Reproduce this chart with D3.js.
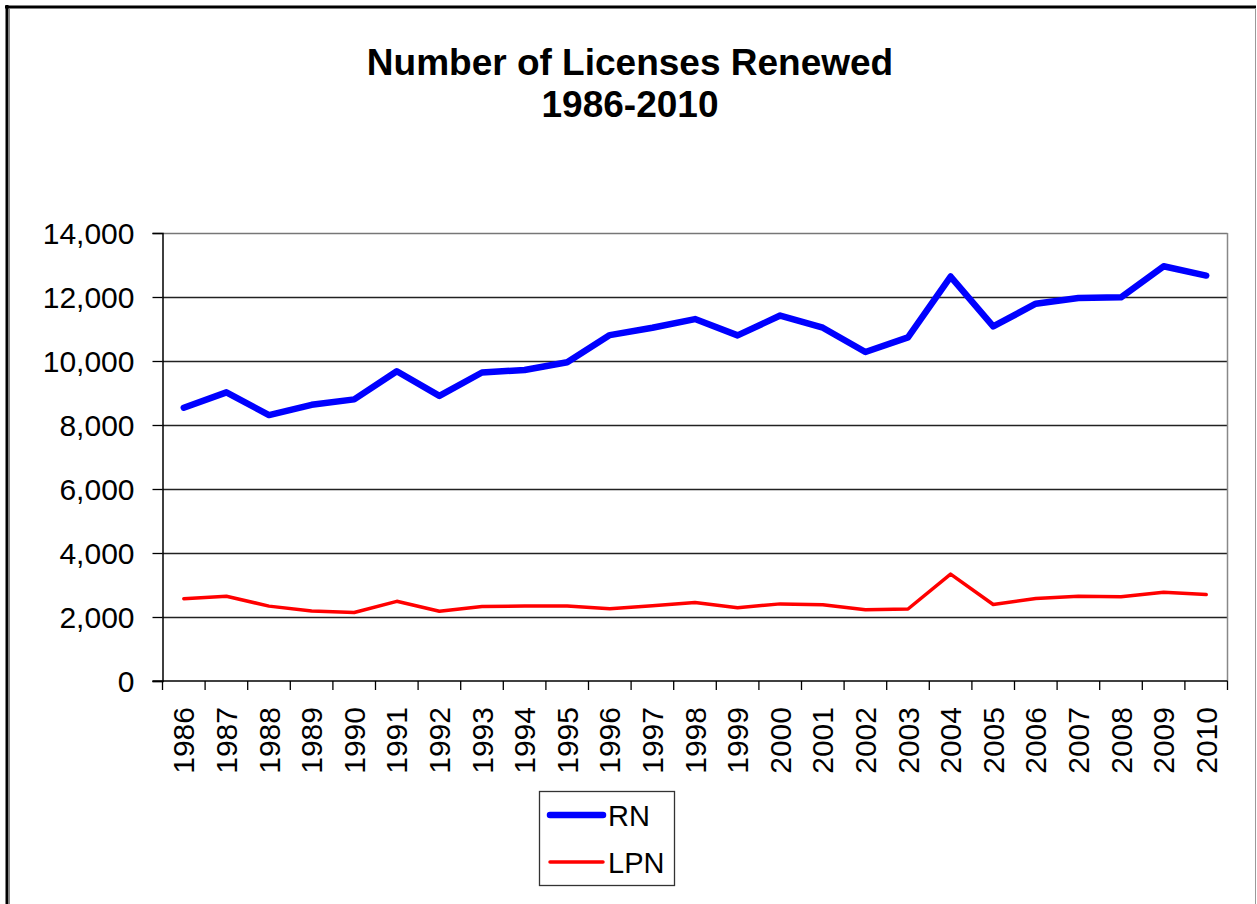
<!DOCTYPE html>
<html>
<head>
<meta charset="utf-8">
<script src="https://cdn.jsdelivr.net/npm/d3@7"></script>
<style>
  html, body { margin: 0; padding: 0; background: #fff; }
  svg { display: block; font-family: "Liberation Sans", Arial, sans-serif; }
</style>
</head>
<body>
<div id="chart"></div>
<script>
// chart values
const years = ["1986","1987","1988","1989","1990","1991","1992","1993","1994","1995",
               "1996","1997","1998","1999","2000","2001","2002","2003","2004","2005",
               "2006","2007","2008","2009","2010"];
const rnValues = [8540, 9020, 8310, 8630, 8800, 9680, 8910, 9640, 9720, 9960,
                  10810, 11040, 11310, 10800, 11420, 11040, 10280, 10740, 12640, 11080,
                  11790, 11970, 11990, 12960, 12670];
const lpnValues = [2570, 2650, 2340, 2190, 2140, 2490, 2180, 2330, 2340, 2340,
                   2260, 2350, 2450, 2290, 2410, 2380, 2230, 2250, 3340, 2390,
                   2580, 2650, 2630, 2770, 2700];
const yTicks = [0, 2000, 4000, 6000, 8000, 10000, 12000, 14000];
const seriesNames = ["RN", "LPN"];

const width = 1257, height = 904;
const margin = {left: 162.5, right: 29.5, top: 233, bottom: 223};

const svg = d3.select("#chart").append("svg")
    .attr("width", width)
    .attr("height", height);

// outer frame
svg.append("line").attr("x1", 5).attr("x2", 1256).attr("y1", 7).attr("y2", 7)
    .attr("stroke", "#000").attr("stroke-width", 3);
svg.append("line").attr("x1", 7).attr("x2", 7).attr("y1", 5).attr("y2", height)
    .attr("stroke", "#000").attr("stroke-width", 3);
svg.append("line").attr("x1", 9.5).attr("x2", 9.5).attr("y1", 9).attr("y2", height)
    .attr("stroke", "#888").attr("stroke-width", 1);
svg.append("line").attr("x1", 1255.5).attr("x2", 1255.5).attr("y1", 8).attr("y2", height)
    .attr("stroke", "#999").attr("stroke-width", 1);

// title
const title = svg.append("text")
    .attr("text-anchor", "middle")
    .attr("font-weight", "bold")
    .attr("font-size", 37)
    .attr("fill", "#000");
title.append("tspan").attr("x", 630).attr("y", 75).text("Number of Licenses Renewed");
title.append("tspan").attr("x", 630).attr("y", 117).text("1986-2010");

const x = d3.scaleBand()
    .domain(years)
    .range([margin.left, width - margin.right])
    .padding(0);

const y = d3.scaleLinear()
    .domain([0, 14000])
    .range([height - margin.bottom, margin.top]);

const cx = d => x(d) + x.bandwidth() / 2;

// gridlines
svg.append("g")
    .selectAll("line")
    .data(yTicks.filter(d => d > 0))
    .enter()
    .append("line")
    .attr("x1", margin.left)
    .attr("x2", width - margin.right)
    .attr("y1", d => Math.round(y(d)) + 0.5)
    .attr("y2", d => Math.round(y(d)) + 0.5)
    .attr("stroke", d => d === 14000 ? "#777" : "#222")
    .attr("stroke-width", 1.3);

// plot area right border
svg.append("line")
    .attr("x1", width - margin.right).attr("x2", width - margin.right)
    .attr("y1", margin.top).attr("y2", y(0))
    .attr("stroke", "#888").attr("stroke-width", 1.5);

// y axis
const yAxis = svg.append("g")
    .attr("transform", "translate(" + margin.left + ",0)")
    .call(d3.axisLeft(y)
        .tickValues(yTicks)
        .tickFormat(d3.format(","))
        .tickSize(10)
        .tickPadding(18));
yAxis.select(".domain").attr("stroke", "#000").attr("stroke-width", 1.5);
yAxis.selectAll(".tick line").attr("stroke", "#000").attr("stroke-width", 1.3);
yAxis.selectAll(".tick text")
    .attr("font-size", 30)
    .attr("font-family", "Liberation Sans, Arial, sans-serif")
    .attr("fill", "#000")
    .attr("dy", "0.36em");

// x axis line and ticks at band edges
const xAxis = svg.append("g").attr("class", "x-axis");
xAxis.append("line")
    .attr("x1", margin.left - 10).attr("x2", width - margin.right)
    .attr("y1", y(0)).attr("y2", y(0))
    .attr("stroke", "#000").attr("stroke-width", 1.5);
xAxis.selectAll(".xtick")
    .data(years.concat(["end"]))
    .enter()
    .append("line")
    .attr("class", "xtick")
    .attr("x1", d => d === "end" ? width - margin.right : x(d))
    .attr("x2", d => d === "end" ? width - margin.right : x(d))
    .attr("y1", y(0))
    .attr("y2", y(0) + 9)
    .attr("stroke", "#000").attr("stroke-width", 1.3);

xAxis.selectAll(".xlabel")
    .data(years)
    .enter()
    .append("text")
    .attr("class", "xlabel")
    .attr("transform", d => "translate(" + (cx(d) + 10.5) + "," + 707 + ") rotate(-90)")
    .attr("text-anchor", "end")
    .attr("font-size", 30)
    .attr("fill", "#000")
    .text(d => d);

// lines
const line = values => d3.line()
    .x((d, i) => cx(years[i]))
    .y(d => y(d))(values);

svg.append("path")
    .attr("d", line(lpnValues))
    .attr("fill", "none")
    .attr("stroke", "#ff0000")
    .attr("stroke-width", 3.5)
    .attr("stroke-linejoin", "round")
    .attr("stroke-linecap", "round");

svg.append("path")
    .attr("d", line(rnValues))
    .attr("fill", "none")
    .attr("stroke", "#0000ff")
    .attr("stroke-width", 6.5)
    .attr("stroke-linejoin", "round")
    .attr("stroke-linecap", "round");

// legend
const legend = svg.append("g");
legend.append("rect")
    .attr("x", 539.5).attr("y", 791.5)
    .attr("width", 135).attr("height", 94)
    .attr("fill", "#fff")
    .attr("stroke", "#333").attr("stroke-width", 1.3);

const legendItems = [
  {name: seriesNames[0], color: "#0000ff", w: 6.5, y: 815},
  {name: seriesNames[1], color: "#ff0000", w: 3.5, y: 862}
];
legendItems.forEach(function(d) {
  legend.append("line")
      .attr("x1", 550).attr("x2", 603)
      .attr("y1", d.y).attr("y2", d.y)
      .attr("stroke", d.color)
      .attr("stroke-width", d.w)
      .attr("stroke-linecap", "round");
  legend.append("text")
      .attr("x", 608).attr("y", d.y + 11)
      .attr("font-size", 29)
      .attr("fill", "#000")
      .text(d.name);
});
</script>
</body>
</html>
